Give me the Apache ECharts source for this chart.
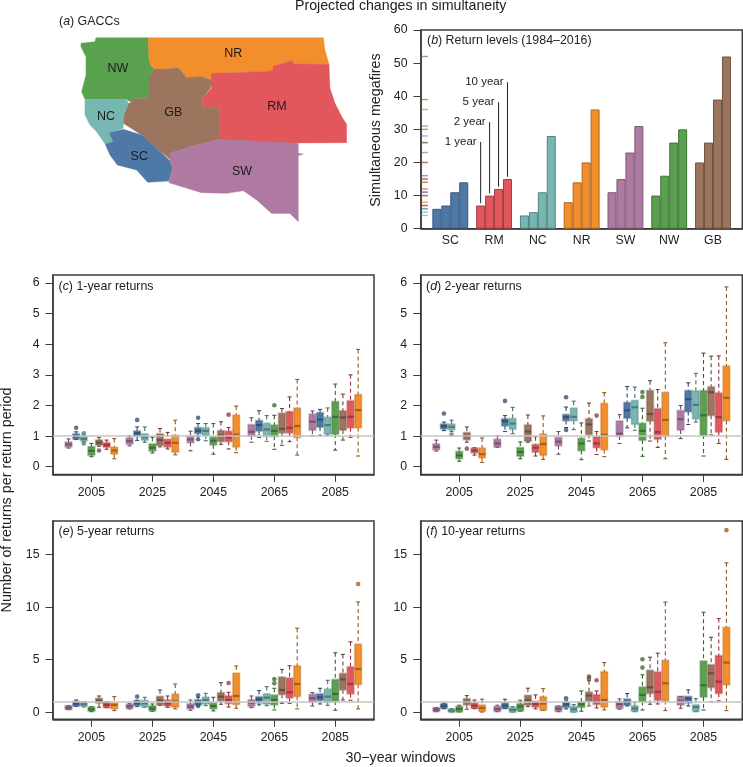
<!DOCTYPE html>
<html>
<head>
<meta charset="utf-8">
<title>Projected changes in simultaneity</title>
<script src="https://cdn.jsdelivr.net/npm/echarts@6/dist/echarts.min.js"></script>
<style>
  html, body { margin: 0; padding: 0; background: #fff; }
  #main { width: 743px; height: 767px; }
</style>
</head>
<body>
<div id="main"></div>
<script>
const FONT = '"Liberation Sans", Arial, sans-serif'
const regionColor = { SC: '#4e79a7', RM: '#e1575c', NC: '#76b7b2', NR: '#f28e2b', SW: '#af7aa1', NW: '#59a14f', GB: '#9c755f' }

// (b) return levels, 1 / 2 / 5 / 10 year
const barRegions = ['SC', 'RM', 'NC', 'NR', 'SW', 'NW', 'GB']
const levelSC = [6, 7, 11, 14]
const levelRM = [7, 10, 12, 15]
const levelNC = [4, 5, 11, 28]
const levelNR = [8, 14, 20, 36]
const levelSW = [11, 15, 23, 31]
const levelNW = [10, 16, 26, 30]
const levelGB = [20, 26, 39, 52]
const leaderText = ['1 year', '2 year', '5 year', '10 year']
const leaderTop = [26.2, 32.2, 38.2, 44.2]

// box order inside every window, values are [low, q1, median, q3, high]
const boxRegions = ['SW', 'SC', 'NC', 'NW', 'GB', 'RM', 'NR']
const windows = [2005, 2025, 2045, 2065, 2085]

const r1_2005 = [[.61,.65,.73,.8,.91],[.89,.91,1,1.07,1.14],[.82,.85,.91,.98,1.04],[.33,.38,.52,.65,.76],[.67,.71,.79,.87,.96],[.57,.64,.71,.78,.87],[.26,.42,.53,.63,.92]]
const r1_2025 = [[.68,.74,.84,.93,1.01],[.86,1,1.09,1.16,1.3],[.8,.87,.96,1.07,1.3],[.45,.52,.62,.74,.96],[.65,.7,.87,1.07,1.25],[.58,.65,.78,.89,1.12],[.39,.48,.78,1.02,1.52]]
const r1_2045 = [[.52,.79,.89,1,1.16],[1,1.09,1.17,1.27,1.41],[.85,1.03,1.17,1.27,1.41],[.41,.72,.85,.96,1.41],[.73,.83,1.03,1.17,1.47],[.58,.83,.96,1.15,1.28],[.46,.65,1.05,1.68,1.98]]
const r1_2065 = [[.8,1.01,1.14,1.37,1.6],[.96,1.17,1.36,1.5,1.83],[.83,1,1.22,1.41,1.67],[.57,1,1.17,1.35,1.68],[.7,1.11,1.24,1.74,1.9],[.82,1.11,1.27,1.79,2.28],[.38,.96,1.33,1.91,2.85]]
const r1_2085 = [[1.02,1.2,1.47,1.71,1.82],[1.02,1.3,1.54,1.76,1.87],[1.03,1.07,1.36,1.61,1.92],[.54,1.07,1.63,2.12,2.7],[.87,1.2,1.61,1.82,2.37],[.96,1.28,1.63,2.15,3],[.35,1.28,1.85,2.35,3.83]]
const out1 = [[0,1,1.27],[0,2,1.09],[0,2,.76],[0,4,.53],[1,1,1.53],[2,1,1.6],[2,1,.9],[2,5,1.7],[3,3,2.01]]

const r2_2005 = [[.51,.56,.65,.74,.87],[1.18,1.24,1.32,1.39,1.46],[1.15,1.21,1.3,1.39,1.52],[.18,.27,.37,.49,.61],[.8,.89,1,1.11,1.3],[.38,.46,.53,.6,.62],[.14,.3,.41,.6,.94]]
const r2_2025 = [[.63,.65,.76,.89,1.01],[1.15,1.34,1.49,1.56,1.67],[1.08,1.23,1.41,1.57,1.94],[.26,.35,.48,.62,.81],[.8,.84,1.15,1.36,1.69],[.35,.48,.62,.72,.98],[.24,.38,.74,1.06,1.66]]
const r2_2045 = [[.41,.69,.82,.95,1.15],[1.28,1.51,1.62,1.7,1.95],[1.21,1.51,1.63,1.91,2.14],[.23,.53,.76,.92,1.43],[.84,1.06,1.38,1.56,2.08],[.4,.63,.76,.98,1.15],[.33,.56,1.04,2.06,2.42]]
const r2_2065 = [[.76,1,1.08,1.49,1.7],[1.27,1.59,1.84,2.09,2.62],[1.19,1.39,1.94,2.16,2.6],[.34,.87,1.17,1.41,1.91],[.84,1.5,1.72,2.48,2.81],[.63,.91,1.13,1.89,2.52],[.26,1,1.53,2.42,4.05]]
const r2_2085 = [[.92,1.2,1.55,1.83,2],[1.38,1.8,2.21,2.48,2.74],[1.46,1.57,2.02,2.47,3.05],[.35,1.04,1.68,2.48,3.71],[1.04,1.68,2.43,2.6,3.61],[.76,1.14,1.62,2.4,3.62],[.24,1.51,2.25,3.28,5.87]]
const out2 = [[0,1,1.74],[0,2,1.05],[0,4,.59],[1,1,2.15],[2,1,2.27],[2,1,1.2],[2,5,1.67],[3,3,2.44],[3,3,2.28]]

const r5_2005 = [[.25,.28,.44,.6,.63],[.57,.6,.82,1,1.17],[.5,.6,.76,.92,1.01],[.06,.13,.28,.47,.54],[.47,.89,1.11,1.3,1.55],[.44,.47,.7,.92,1.01],[.16,.35,.7,.85,1.49]]
const r5_2025 = [[.32,.38,.57,.73,.82],[.54,.66,.85,1.08,1.14],[.47,.54,.85,1.11,1.42],[.09,.16,.35,.6,.79],[.66,.73,1.11,1.49,2.12],[.47,.6,.85,1.14,1.55],[.32,.5,1.04,1.71,2.69]]
const r5_2045 = [[.19,.35,.54,.79,1.17],[.65,.7,.95,1.17,1.42],[.63,.79,1.17,1.42,1.8],[.13,.35,.6,.85,1.42],[.76,1.11,1.49,1.84,2.82],[.5,.85,1.17,1.55,1.9],[.38,.76,1.55,3.7,4.4]]
const r5_2065 = [[.44,.57,.92,1.17,1.55],[.7,.92,1.23,1.46,2.06],[.63,.79,1.39,1.74,2.44],[.22,.73,1.17,1.61,2.28],[.85,1.71,2.12,3.32,4.08],[.85,1.39,1.9,3.23,4.43],[.32,1.52,2.69,4.4,8]]
const r5_2085 = [[.6,.98,1.33,1.68,1.87],[.79,1.14,1.42,1.74,2.28],[.66,.98,1.49,2.18,3.04],[.19,1.08,1.74,3.1,5.66],[1.17,2.15,3.13,3.67,5.5],[1.14,1.77,2.69,4.3,6.7],[.32,2.66,4.11,6.46,10.5]]
const out5 = [[1,1,1.49],[2,1,1.61],[2,1,.6],[2,5,2.78],[3,3,3.16],[3,3,2.75],[4,6,12.2]]

const r10_2005 = [[.06,.1,.25,.41,.44],[.35,.38,.6,.79,.86],[.02,.03,.16,.29,.35],[.03,.06,.32,.54,.67],[.29,.73,.98,1.27,1.59],[.35,.38,.63,.86,1.17],[.02,.1,.41,.67,1.24]]
const r10_2025 = [[.06,.1,.32,.54,.67],[.36,.38,.63,.86,1.24],[.02,.03,.22,.44,.54],[.1,.16,.54,.79,1.14],[.54,.7,1.14,1.59,2.29],[.32,.51,.79,1.02,1.65],[.19,.22,.83,1.46,2.25]]
const r10_2045 = [[.06,.1,.35,.57,.6],[.32,.48,.76,.92,1.08],[.02,.03,.29,.54,.73],[.1,.48,.76,.95,2.03],[.6,1.08,1.59,1.9,3],[.41,.76,.98,1.65,2.03],[.22,.51,1.17,3.84,4.73]]
const r10_2065 = [[.29,.38,.76,.98,1.27],[.6,.7,.98,1.24,1.78],[.06,.1,.35,.6,.98],[.22,1.02,1.65,2.38,3.56],[.76,1.81,2.38,3.97,5.24],[.79,1.17,1.94,3.81,5.62],[.16,1.11,2.76,4.92,10.48]]
const r10_2085 = [[.38,.7,1.08,1.49,1.5],[.6,.92,1.3,1.49,2.13],[.06,.1,.48,.7,1.3],[.22,1.46,2.57,4.86,9.52],[1,2.38,3.71,4.51,7.14],[1.08,1.81,2.92,5.37,8.92],[.16,2.63,4.73,8.06,14.22]]
const out10 = [[2,1,1.33],[2,4,3.4],[2,4,3.2],[2,5,3.05],[3,3,5.05],[3,3,4.25],[4,6,17.33]]

// (a) region outlines, map units (north is up, lat = -y in the feature builder)
const outlineNW = [[243,130],[285,125],[288,113],[445,113],[447,175],[452,195],[465,207],[447,225],[447,295],[400,296],[395,308],[380,298],[255,298],[245,275],[258,225],[258,170],[243,140]]
const outlineNR = [[445,113],[970,113],[975,150],[987,193],[880,192],[878,181],[850,190],[820,198],[818,212],[790,215],[635,220],[630,240],[605,230],[580,233],[560,233],[535,203],[490,208],[465,207],[452,195],[447,175]]
const outlineRM = [[635,220],[790,215],[818,212],[820,198],[850,190],[878,181],[880,192],[987,193],[990,265],[1005,310],[1028,355],[1040,372],[1040,428],[660,430],[658,322],[607,322],[607,295],[635,265],[630,250]]
const outlineGB = [[465,207],[490,208],[535,203],[560,233],[605,230],[632,240],[632,265],[607,295],[607,322],[658,322],[660,418],[580,438],[510,460],[510,478],[470,445],[425,405],[370,370],[370,350],[385,310],[395,308],[400,296],[447,295],[447,225]]
const outlineNC = [[255,298],[380,298],[385,310],[370,350],[370,385],[327,398],[340,425],[316,433],[290,395],[270,375],[255,345]]
const outlineSC = [[316,433],[340,425],[327,398],[370,388],[425,405],[470,445],[510,482],[518,505],[507,543],[443,547],[410,510],[352,495],[330,465]]
const outlineSW = [[510,460],[580,438],[660,418],[895,430],[895,460],[910,462],[895,467],[895,665],[870,640],[815,640],[770,600],[730,572],[680,580],[605,578],[507,548],[518,505],[510,482]]
const mapLabelAt = { NW: [354,207], NR: [700,162], RM: [831,319], GB: [520,339], NC: [318,351], SC: [418,469], SW: [726,514] }

function darken (hex, k) {
  const n = parseInt(hex.slice(1), 16)
  const r = Math.round((n >> 16) * k)
  const g = Math.round(((n >> 8) & 255) * k)
  const b = Math.round((n & 255) * k)
  return 'rgb(' + r + ',' + g + ',' + b + ')'
}

function feature (name, ring) {
  const coords = ring.concat([ring[0]]).map(function (p) { return [p[0], -p[1]] })
  const at = mapLabelAt[name]
  return {
    type: 'Feature',
    properties: { name: name, cp: [at[0], -at[1]] },
    geometry: { type: 'Polygon', coordinates: [coords] }
  }
}

echarts.registerMap('gacc', {
  type: 'FeatureCollection',
  features: [
    feature('NW', outlineNW), feature('NR', outlineNR), feature('RM', outlineRM), feature('GB', outlineGB),
    feature('NC', outlineNC), feature('SC', outlineSC), feature('SW', outlineSW)
  ]
})

const myChart = echarts.init(document.getElementById('main'))

const levels = [levelSC, levelRM, levelNC, levelNR, levelSW, levelNW, levelGB]
const BAR_STEP = 0.2045
const barData = []
const rugData = []
levels.forEach(function (vals, i) {
  const c = regionColor[barRegions[i]]
  vals.forEach(function (v, j) {
    barData.push({ value: [i + (j - 1.5) * BAR_STEP, v], itemStyle: { color: c, borderColor: darken(c, 0.72), borderWidth: 1 } })
    rugData.push({ value: [-0.582, v], itemStyle: { color: c } })
  })
})

// one panel of box data -> custom series + outlier scatter
function boxSeries (groups, outliers, gridIdx) {
  const data = []
  groups.forEach(function (group, w) {
    group.forEach(function (s, r) {
      data.push([windows[w] + (r - 3) * 2.5, s[0], s[1], s[2], s[3], s[4], r])
    })
  })
  const pts = outliers.map(function (o) {
    return {
      value: [windows[o[0]] + (o[1] - 3) * 2.5, o[2]],
      itemStyle: { color: darken(regionColor[boxRegions[o[1]]], 0.68) }
    }
  })
  return [{
    type: 'custom',
    xAxisIndex: gridIdx,
    yAxisIndex: gridIdx,
    silent: true,
    encode: { x: 0, y: [1, 2, 3, 4, 5] },
    data: data,
    renderItem: function (params, api) {
      const x = api.value(0)
      const col = regionColor[boxRegions[api.value(6)]]
      const dark = darken(col, 0.62)
      const px = api.coord([x, 0])[0]
      const lo = api.coord([x, api.value(1)])[1]
      const q1 = api.coord([x, api.value(2)])[1]
      const med = api.coord([x, api.value(3)])[1]
      const q3 = api.coord([x, api.value(4)])[1]
      const hi = api.coord([x, api.value(5)])[1]
      const wiskStyle = { stroke: dark, lineWidth: 1.1, lineDash: [4, 3] }
      const capStyle = { stroke: dark, lineWidth: 1.1 }
      return {
        type: 'group',
        children: [
          { type: 'line', shape: { x1: px, y1: hi, x2: px, y2: q3 }, style: wiskStyle },
          { type: 'line', shape: { x1: px, y1: q1, x2: px, y2: lo }, style: wiskStyle },
          { type: 'line', shape: { x1: px - 2, y1: hi, x2: px + 2, y2: hi }, style: capStyle },
          { type: 'line', shape: { x1: px - 2, y1: lo, x2: px + 2, y2: lo }, style: capStyle },
          { type: 'rect', shape: { x: px - 3.8, y: q3 - 0.8, width: 7.6, height: q1 - q3 + 1.6 }, style: { fill: 'none', stroke: col, opacity: 0.35, lineWidth: 1 } },
          { type: 'rect', shape: { x: px - 3.2, y: q3, width: 6.4, height: q1 - q3 }, style: { fill: col, stroke: dark, strokeOpacity: 0.55, lineWidth: 0.8 } },
          { type: 'line', shape: { x1: px - 3.2, y1: med, x2: px + 3.2, y2: med }, style: { stroke: dark, lineWidth: 2.2, opacity: 0.85 } }
        ]
      }
    },
    markLine: {
      silent: true,
      symbol: 'none',
      animation: false,
      label: { show: false },
      lineStyle: { color: '#c4c4c4', width: 1.5, type: 'solid' },
      data: [{ yAxis: 1 }]
    },
    z: 3
  }, {
    type: 'scatter',
    xAxisIndex: gridIdx,
    yAxisIndex: gridIdx,
    silent: true,
    symbolSize: 4.6,
    data: pts,
    z: 4
  }]
}

const axisColor = '#3c3c3c'
const labelStyle = { color: '#222', fontSize: 12.3, fontFamily: FONT }
const TICK_LEN = 7.5

function xAxisFor (gridIdx) {
  return {
    type: 'value',
    gridIndex: gridIdx,
    min: 1992.4,
    max: 2097.7,
    splitLine: { show: false },
    axisLine: { onZero: false, lineStyle: { color: axisColor, width: 1.5 } },
    axisTick: { length: TICK_LEN, lineStyle: { color: axisColor }, customValues: windows },
    axisLabel: Object.assign({ margin: 12, customValues: windows, formatter: function (v) { return String(v) } }, labelStyle)
  }
}

function yAxisFor (gridIdx, lo, hi, ticks) {
  return {
    type: 'value',
    gridIndex: gridIdx,
    min: lo,
    max: hi,
    splitLine: { show: false },
    axisLine: { onZero: false, lineStyle: { color: axisColor, width: 1.5 } },
    axisTick: { length: TICK_LEN, lineStyle: { color: axisColor }, customValues: ticks },
    axisLabel: Object.assign({ margin: 13.5, customValues: ticks, formatter: function (v) { return String(v) } }, labelStyle)
  }
}

function panelTitle (letter, text, left, top) {
  return {
    text: '({i|' + letter + '}) ' + text,
    left: left,
    top: top,
    padding: 0,
    textStyle: {
      color: '#222',
      fontSize: 12.4,
      fontWeight: 'normal',
      fontFamily: FONT,
      rich: { i: { fontStyle: 'italic', fontSize: 12.4, color: '#222', fontFamily: FONT } }
    }
  }
}

const gridBase = { show: true, borderColor: axisColor, borderWidth: 1.5, backgroundColor: 'transparent' }
const y6 = [0, 1, 2, 3, 4, 5, 6]
const y15 = [0, 5, 10, 15]

const option = {
  animation: false,
  title: [
    {
      text: 'Projected changes in simultaneity',
      left: 295,
      top: -1,
      padding: 0,
      textStyle: { color: '#222', fontSize: 14.2, fontWeight: 'normal', fontFamily: FONT }
    },
    panelTitle('a', 'GACCs', 59, 16),
    panelTitle('b', 'Return levels (1984\u20132016)', 427, 35),
    panelTitle('c', '1-year returns', 58.5, 281),
    panelTitle('d', '2-year returns', 426, 281),
    panelTitle('e', '5-year returns', 58.5, 526),
    panelTitle('f', '10-year returns', 426, 526)
  ],
  graphic: [
    { type: 'text', x: 376, y: 130, rotation: Math.PI / 2, style: { text: 'Simultaneous megafires', fill: '#222', font: '14.3px ' + FONT, textAlign: 'center', textVerticalAlign: 'middle' } },
    { type: 'text', x: 7, y: 500, rotation: Math.PI / 2, style: { text: 'Number of returns per return period', fill: '#222', font: '14.3px ' + FONT, textAlign: 'center', textVerticalAlign: 'middle' } },
    { type: 'text', x: 400.5, y: 758, style: { text: '30\u2212year windows', fill: '#222', font: '14.2px ' + FONT, textAlign: 'center', textVerticalAlign: 'middle' } }
  ],
  grid: [
    Object.assign({ left: 421, top: 30, width: 321.3, height: 198.7 }, gridBase),
    Object.assign({ left: 53, top: 275, width: 321, height: 199.4 }, gridBase),
    Object.assign({ left: 420.7, top: 275, width: 321.6, height: 199.4 }, gridBase),
    Object.assign({ left: 53, top: 521, width: 321, height: 198.3 }, gridBase),
    Object.assign({ left: 420.7, top: 521, width: 321.6, height: 198.3 }, gridBase)
  ],
  xAxis: [
    {
      type: 'value',
      gridIndex: 0,
      min: -0.669,
      max: 6.669,
      splitLine: { show: false },
      axisLine: { onZero: false, lineStyle: { color: axisColor, width: 1.5 } },
      axisTick: { show: false },
      axisLabel: Object.assign({
        margin: 6,
        customValues: [0, 1, 2, 3, 4, 5, 6],
        formatter: function (v) { return barRegions[v] }
      }, labelStyle)
    },
    xAxisFor(1), xAxisFor(2), xAxisFor(3), xAxisFor(4)
  ],
  yAxis: [
    {
      type: 'value',
      gridIndex: 0,
      min: 0,
      max: 60,
      interval: 10,
      splitLine: { show: false },
      axisLine: { onZero: false, lineStyle: { color: axisColor, width: 1.5 } },
      axisTick: { length: TICK_LEN, lineStyle: { color: axisColor } },
      axisLabel: Object.assign({ margin: 13.5 }, labelStyle)
    },
    yAxisFor(1, -0.25, 6.26, y6),
    yAxisFor(2, -0.25, 6.26, y6),
    yAxisFor(3, -0.67, 18.2, y15),
    yAxisFor(4, -0.67, 18.2, y15)
  ],
  series: [
    {
      type: 'map',
      map: 'gacc',
      silent: true,
      aspectScale: 1,
      layoutCenter: [213.8, 129.7],
      layoutSize: 265.7,
      label: { show: true, color: '#1c1c1c', fontSize: 12.5, fontFamily: FONT },
      data: Object.keys(mapLabelAt).map(function (name) {
        return { name: name, itemStyle: { areaColor: regionColor[name], borderColor: regionColor[name], borderWidth: 0.4 } }
      })
    },
    {
      type: 'bar',
      xAxisIndex: 0,
      yAxisIndex: 0,
      barWidth: 9,
      silent: true,
      data: barData
    },
    {
      type: 'scatter',
      xAxisIndex: 0,
      yAxisIndex: 0,
      silent: true,
      symbol: 'rect',
      symbolSize: [6, 1.4],
      data: rugData
    },
    {
      // leader lines from the RM bars up to their return period labels
      type: 'custom',
      xAxisIndex: 0,
      yAxisIndex: 0,
      silent: true,
      encode: { x: 0, y: 1 },
      data: levelRM.map(function (v, j) { return [1 + (j - 1.5) * BAR_STEP, v + 0.7, leaderTop[j], j] }),
      renderItem: function (params, api) {
        const bottom = api.coord([api.value(0), api.value(1)])
        const top = api.coord([api.value(0), api.value(2)])
        return {
          type: 'group',
          children: [
            { type: 'line', shape: { x1: bottom[0], y1: bottom[1], x2: top[0], y2: top[1] }, style: { stroke: '#222', lineWidth: 1 } },
            { type: 'text', x: top[0] - 4, y: top[1], style: { text: leaderText[api.value(3)], fill: '#222', font: '11.5px ' + FONT, textAlign: 'right', textVerticalAlign: 'middle' } }
          ]
        }
      }
    }
  ].concat(
    boxSeries([r1_2005, r1_2025, r1_2045, r1_2065, r1_2085], out1, 1),
    boxSeries([r2_2005, r2_2025, r2_2045, r2_2065, r2_2085], out2, 2),
    boxSeries([r5_2005, r5_2025, r5_2045, r5_2065, r5_2085], out5, 3),
    boxSeries([r10_2005, r10_2025, r10_2045, r10_2065, r10_2085], out10, 4)
  )
}

myChart.setOption(option)
</script>
</body>
</html>
